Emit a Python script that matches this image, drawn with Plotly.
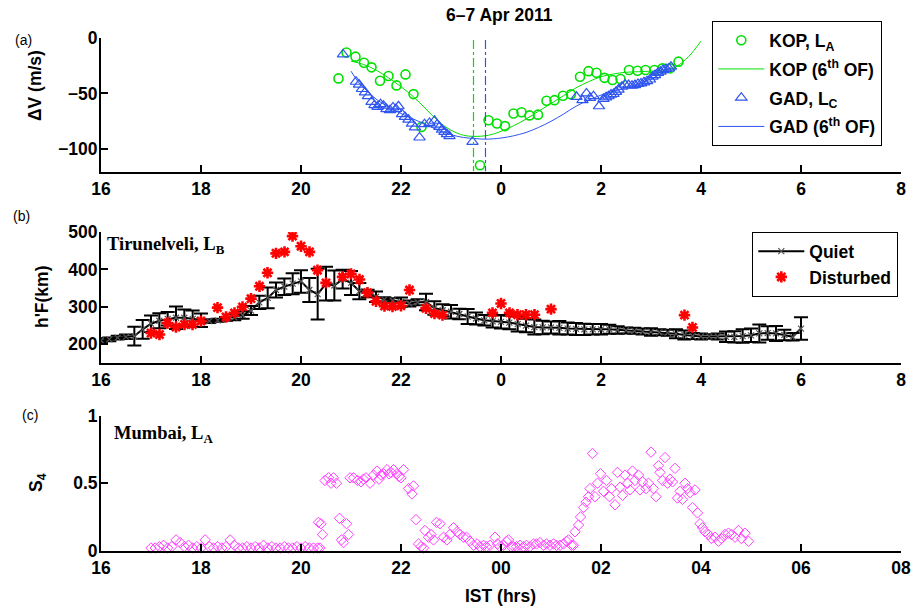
import numpy as np
import plotly.graph_objects as go

# ---------------- panel (a): drift difference, KOP and GAD ----------------
kop_hr = [20.75, 20.91, 21.09, 21.26, 21.41, 21.58, 21.75, 21.91, 22.09, 22.25, 22.41,
          23.58, 23.75, 23.92, 24.08, 24.25, 24.41, 24.57, 24.74, 24.91, 25.07, 25.24,
          25.40, 25.58, 25.75, 25.91, 26.07, 26.23, 26.39, 26.56, 26.73, 26.89, 27.07,
          27.23, 27.38, 27.55]
kop_dv = [-36.5, -13.3, -17, -22.5, -26.6, -38.6, -34.4, -42.8, -32.9, -50.6, -80,
          -114.4, -74, -77, -79.3, -68, -66.8, -69.7, -69, -56.6, -56, -52,
          -50.8, -35, -30, -31.4, -36, -38, -37, -29, -29.6, -29, -29,
          -27.5, -27.5, -21.5]

kop_fit_hr = [21.0, 21.25, 21.5, 21.75, 22.0, 22.25, 22.5, 22.75, 23.0, 23.25, 23.45,
              23.75, 24.0, 24.25, 24.5, 24.75, 25.0, 25.25, 25.5, 25.75, 26.0, 26.25,
              26.5, 26.75, 27.0, 27.25, 27.5, 27.75, 28.0]
kop_fit_dv = [-21, -24, -29, -36, -44, -53, -64, -75, -83, -87.5, -88.5,
              -87.5, -84, -79, -73, -66, -59, -52, -45, -39.5, -35, -32.5,
              -31, -30.5, -30, -29, -26, -17, -3]

gad_hr = [20.84, 21.10, 21.16, 21.22, 21.28, 21.34, 21.41, 21.47, 21.53, 21.59, 21.65,
          21.71, 21.78, 21.84, 21.90, 21.95, 22.02, 22.08, 22.15, 22.22, 22.28, 22.37,
          22.47, 22.57, 22.67, 22.72, 22.77, 22.82, 22.87, 22.92, 22.97, 23.43,
          25.51, 25.63, 25.71, 25.78, 25.85, 25.96, 26.05, 26.10, 26.15, 26.20, 26.25,
          26.30, 26.35, 26.42, 26.48, 26.55, 26.62, 26.68, 26.74, 26.80, 26.86, 26.92,
          26.98, 27.03, 27.08, 27.14, 27.19, 27.24, 27.30, 27.36, 27.40]
gad_dv = [-15, -39.5, -42, -46, -49, -52.4, -57.5, -60.5, -62, -59.6, -61,
          -64, -65, -62.5, -64, -61.5, -68.6, -71, -73.5, -77, -80.5, -89.5,
          -77.6, -76.4, -74.5, -78, -80, -82.5, -84.5, -86.5, -88.3, -93.5,
          -53, -56, -50, -54, -52.4, -61.5, -55, -53.5, -52.5, -51, -50.5,
          -48.5, -46.5, -44, -42, -42.5, -43, -42.5, -41.5, -41, -40, -39,
          -37.5, -35, -33.5, -31.5, -30.5, -29, -28, -27.5, -26]

gad_fit_hr = [21.0, 21.15, 21.33, 21.5, 21.75, 22.0, 22.25, 22.5, 22.75, 23.0, 23.25,
              23.5, 23.7, 24.0, 24.25, 24.5, 24.75, 25.0, 25.25, 25.5, 25.75, 26.0,
              26.25, 26.5, 26.75, 27.0, 27.25, 27.4]
gad_fit_dv = [-30, -40, -48, -55, -62, -68, -73, -78, -83, -87, -89.5,
              -90.5, -91, -90, -88, -85, -80.5, -75, -68.5, -61.5, -56, -51.5,
              -48, -45, -41.5, -37, -31, -26]

# hours of the fitted minima, and the vertical extent of their markers
kop_fit_min_hr = 23.45
gad_fit_min_hr = 23.69
min_marker_dv = [-2, -120]

# ---------------- panel (b): h'F at Tirunelveli ----------------
quiet_hr = np.round(np.arange(16.0, 30.0 + 1e-6, 1.0 / 6.0), 4)
quiet_hf = [210, 213, 218, 220, 222, 240,
            255, 263, 268, 271, 271, 268,
            264, 262, 264, 268, 272, 278,
            290, 312, 324, 345, 354, 362,
            368, 345, 334, 362, 357, 374,
            364, 342, 336, 327, 320, 317,
            313, 309, 312, 313, 297, 291,
            287, 281, 274, 269, 264, 261,
            260, 258, 254, 250, 246, 245,
            245, 244, 242, 241, 240, 240,
            240, 240, 238, 237, 236, 234,
            233, 232, 231, 228, 225, 222,
            221, 221, 221, 220, 220, 222,
            224, 229, 230, 229, 225, 220,
            242]
quiet_err = [6, 5, 5, 6, 25, 25,
             22, 20, 18, 30, 22, 22,
             18, 5, 4, 5, 8, 10,
             12, 18, 28, 20, 22, 28,
             30, 32, 68, 45, 40, 25,
             32, 22, 10, 14, 6, 6,
             12, 8, 8, 22, 18, 16,
             18, 14, 20, 16, 14, 16,
             18, 18, 20, 18, 20, 18,
             16, 18, 16, 16, 15, 14,
             14, 12, 10, 8, 8, 8,
             10, 8, 8, 12, 12, 8,
             8, 6, 8, 14, 15, 18,
             18, 24, 18, 20, 14, 10,
             30]

dist_hr = [17.00, 17.17, 17.33, 17.50, 17.67, 17.83, 18.00, 18.33, 18.50, 18.67, 18.83,
           19.00, 19.17, 19.33, 19.50, 19.67, 19.83, 20.00, 20.17, 20.33, 20.50, 20.83,
           21.00, 21.17, 21.33, 21.50, 21.67, 21.83, 22.00, 22.17, 22.50, 22.67, 22.83,
           23.83, 24.00, 24.17, 24.33, 24.50, 24.67, 25.00, 27.67, 27.83]
dist_hf = [230, 226, 257, 246, 253, 253, 262, 298, 273, 284, 300,
           322, 355, 391, 443, 447, 489, 462, 447, 398, 364, 380,
           388, 373, 338, 315, 302, 301, 303, 345, 296, 282, 278,
           284, 309, 284, 279, 279, 279, 294, 278, 245]

# ---------------- panel (c): S4 at Mumbai ----------------
s4_quiet_hr = np.round(17.0 + np.arange(41) / 12.0, 4)
s4_quiet = [0.02, 0.02, 0.03, 0.04, 0.02, 0.03, 0.08, 0.06, 0.03, 0.04, 0.02, 0.03,
            0.02, 0.08, 0.03, 0.02, 0.03, 0.02, 0.03, 0.08, 0.04, 0.02, 0.02, 0.03,
            0.02, 0.03, 0.02, 0.04, 0.02, 0.03, 0.02, 0.02, 0.03, 0.02, 0.02, 0.03,
            0.02, 0.03, 0.02, 0.02, 0.02]
s4_event_hr = [20.35, 20.38, 20.40, 20.43, 20.48, 20.55, 20.60, 20.65, 20.71, 20.77, 20.81,
               20.85, 20.91, 20.95, 20.98, 21.05, 21.13, 21.20, 21.25, 21.30, 21.38, 21.45,
               21.52, 21.56, 21.60, 21.65, 21.72, 21.76, 21.80, 21.85, 21.92, 21.96, 22.00,
               22.05, 22.15, 22.22, 22.25, 22.30, 22.35, 22.40, 22.45, 22.48, 22.55, 22.60,
               22.65, 22.71, 22.78, 22.85, 22.92, 22.98, 23.05, 23.12, 23.18, 23.25, 23.31,
               23.38, 23.45, 23.52, 23.58, 23.65, 23.71, 23.78, 23.88, 23.93, 23.98, 24.05,
               24.11, 24.15, 24.20, 24.25, 24.31, 24.38, 24.45, 24.51, 24.58, 24.65, 24.71,
               24.78, 24.85, 24.91, 24.98, 25.05, 25.11, 25.18, 25.25, 25.31, 25.35, 25.41,
               25.45, 25.48, 25.55, 25.59, 25.65, 25.70, 25.75, 25.78, 25.83, 25.88, 25.93,
               25.99, 26.05, 26.11, 26.17, 26.21, 26.28, 26.33, 26.38, 26.43, 26.48, 26.53,
               26.58, 26.63, 26.68, 26.75, 26.78, 26.83, 26.90, 26.95, 27.00, 27.05, 27.10,
               27.15, 27.18, 27.23, 27.28, 27.33, 27.38, 27.43, 27.48, 27.53, 27.58, 27.63,
               27.68, 27.73, 27.78, 27.83, 27.88, 27.93, 27.98, 28.03, 28.08, 28.15, 28.21,
               28.28, 28.35, 28.41, 28.48, 28.55, 28.61, 28.68, 28.75, 28.81, 28.88, 28.95]
s4_event = [0.21, 0.02, 0.20, 0.12, 0.52, 0.54, 0.50, 0.54, 0.50, 0.24, 0.08,
            0.06, 0.20, 0.12, 0.54, 0.54, 0.52, 0.51, 0.53, 0.54, 0.50, 0.56,
            0.59, 0.53, 0.56, 0.57, 0.60, 0.57, 0.58, 0.60, 0.57, 0.55, 0.54,
            0.60, 0.46, 0.42, 0.48, 0.23, 0.05, 0.03, 0.02, 0.15, 0.10, 0.12,
            0.08, 0.21, 0.20, 0.10, 0.08, 0.12, 0.17, 0.14, 0.12, 0.10, 0.10,
            0.07, 0.04, 0.05, 0.03, 0.04, 0.03, 0.04, 0.10, 0.05, 0.03, 0.04,
            0.07, 0.08, 0.03, 0.03, 0.03, 0.04, 0.03, 0.04, 0.03, 0.05, 0.05,
            0.06, 0.04, 0.05, 0.04, 0.05, 0.04, 0.04, 0.05, 0.07, 0.08, 0.04,
            0.04, 0.14, 0.19, 0.25, 0.32, 0.36, 0.40, 0.46, 0.72, 0.40, 0.50,
            0.57, 0.44, 0.52, 0.40, 0.46, 0.34, 0.58, 0.47, 0.41, 0.56, 0.50,
            0.45, 0.59, 0.52, 0.56, 0.45, 0.51, 0.46, 0.50, 0.73, 0.46, 0.40,
            0.63, 0.58, 0.52, 0.69, 0.50, 0.53, 0.51, 0.61, 0.39, 0.44, 0.38,
            0.50, 0.46, 0.43, 0.32, 0.45, 0.28, 0.20, 0.17, 0.14, 0.12, 0.09,
            0.10, 0.07, 0.09, 0.12, 0.13, 0.12, 0.10, 0.15, 0.09, 0.13, 0.07]
s4_hr = list(s4_quiet_hr) + s4_event_hr
s4 = s4_quiet + s4_event

# ---------------- axis ticks ----------------
hour_ticks = [16, 18, 20, 22, 24, 26, 28, 30, 32]
hour_labels_ab = ["16", "18", "20", "22", "0", "2", "4", "6", "8"]
hour_labels_c = ["16", "18", "20", "22", "00", "02", "04", "06", "08"]

# ---------------- styling ----------------
W, H = 919, 606
SANS = "Liberation Sans"
SERIF = "Liberation Serif"
FS = 17.5
GREEN = "#00e000"
BLUE = "#2f55f0"
RED = "#ff0000"
MAGENTA = "#ff40ff"


def px_x(x):
    return x / W


def px_y(y):
    return 1 - y / H


XDOM = [px_x(101), px_x(901)]
tickfont = dict(family=SANS, size=FS, color="black", weight="bold")

fig = go.Figure()

# panel (a)
fig.add_trace(go.Scatter(x=kop_hr, y=kop_dv, mode="markers", name="<b>KOP, L<sub>A</sub></b>",
                         legendgroup="kop",
                         marker=dict(symbol="circle-open", size=9, color=GREEN, line=dict(width=1.6, color=GREEN)),
                         xaxis="x", yaxis="y", legend="legend"))
fig.add_trace(go.Scatter(x=kop_fit_hr, y=kop_fit_dv, mode="lines", name="<b>KOP (6<sup>th</sup> OF)</b>",
                         legendgroup="kopfit",
                         line=dict(color=GREEN, width=1, shape="spline", smoothing=1.0),
                         xaxis="x", yaxis="y", legend="legend"))
fig.add_trace(go.Scatter(x=gad_hr, y=gad_dv, mode="markers", name="<b>GAD, L<sub>C</sub></b>",
                         legendgroup="gad",
                         marker=dict(symbol="triangle-up-open", size=10, color=BLUE, line=dict(width=1.2, color=BLUE)),
                         xaxis="x", yaxis="y", legend="legend"))
fig.add_trace(go.Scatter(x=gad_fit_hr, y=gad_fit_dv, mode="lines", name="<b>GAD (6<sup>th</sup> OF)</b>",
                         legendgroup="gadfit",
                         line=dict(color=BLUE, width=1, shape="spline", smoothing=1.0),
                         xaxis="x", yaxis="y", legend="legend"))
# dash-dot markers at the hours of the fitted minima
fig.add_trace(go.Scatter(x=[kop_fit_min_hr, kop_fit_min_hr], y=min_marker_dv, mode="lines",
                         showlegend=False, line=dict(color=GREEN, width=1.2, dash="dashdot"),
                         xaxis="x", yaxis="y"))
fig.add_trace(go.Scatter(x=[gad_fit_min_hr, gad_fit_min_hr], y=min_marker_dv, mode="lines",
                         showlegend=False, line=dict(color=BLUE, width=1.2, dash="dashdot"),
                         xaxis="x", yaxis="y"))

# panel (b)
fig.add_trace(go.Scatter(x=quiet_hr, y=quiet_hf, mode="lines+markers", name="<b>Quiet</b>",
                         line=dict(color="black", width=2),
                         marker=dict(symbol="x-thin-open", size=6, color="#555555",
                                     line=dict(width=1.2, color="#555555")),
                         error_y=dict(type="data", array=quiet_err, visible=True, color="black",
                                      thickness=2, width=7),
                         xaxis="x2", yaxis="y2", legend="legend2"))
fig.add_trace(go.Scatter(x=dist_hr, y=dist_hf, mode="markers", name="<b>Disturbed</b>",
                         marker=dict(symbol="asterisk-open", size=9.5, color=RED, line=dict(width=2.6, color=RED)),
                         xaxis="x2", yaxis="y2", legend="legend2"))

# panel (c)
fig.add_trace(go.Scatter(x=s4_hr, y=s4, mode="markers", showlegend=False, cliponaxis=False,
                         marker=dict(symbol="diamond-open", size=8, color=MAGENTA, line=dict(width=1, color=MAGENTA)),
                         xaxis="x3", yaxis="y3"))


def xaxis(anchor, labels):
    return dict(domain=XDOM, range=[16, 32], tickmode="array", tickvals=hour_ticks, ticktext=labels,
                showline=True, linecolor="black", linewidth=2, ticks="inside", ticklen=7,
                tickwidth=2, tickcolor="black", showgrid=False, zeroline=False, automargin=False,
                tickfont=tickfont, anchor=anchor, fixedrange=True)


def yaxis(anchor, dom, rng, vals, labels):
    return dict(domain=dom, range=rng, tickmode="array", tickvals=vals, ticktext=labels,
                showline=True, linecolor="black", linewidth=2, ticks="inside", ticklen=7,
                tickwidth=2, tickcolor="black", showgrid=False, zeroline=False, automargin=False,
                ticklabelstandoff=-2,
                tickfont=tickfont, anchor=anchor, fixedrange=True)


legend_style = dict(xanchor="left", yanchor="top", bgcolor="white", bordercolor="black",
                    borderwidth=1.3, font=dict(family=SANS, size=FS, color="black"),
                    itemwidth=46, itemclick=False, itemdoubleclick=False)

fig.update_layout(
    width=W, height=H, autosize=False,
    margin=dict(l=0, r=0, t=0, b=0, pad=0, autoexpand=False),
    paper_bgcolor="white", plot_bgcolor="white",
    showlegend=True,
    xaxis=xaxis("y", hour_labels_ab),
    yaxis=yaxis("x", [px_y(171.5), px_y(37.7)], [-120, 0], [-100, -50, 0], ["\u2212100", "\u221250", "0"]),
    xaxis2=xaxis("y2", hour_labels_ab),
    yaxis2=yaxis("x2", [px_y(363), px_y(232)], [150, 500], [200, 300, 400, 500], ["200", "300", "400", "500"]),
    xaxis3=xaxis("y3", hour_labels_c),
    yaxis3=yaxis("x3", [px_y(550.7), px_y(415.7)], [0, 1], [0, 0.5, 1], ["0", "0.5", "1"]),
    legend=dict(x=px_x(712), y=px_y(21), traceorder="grouped", tracegroupgap=3, **legend_style),
    legend2=dict(x=px_x(752), y=px_y(232), tracegroupgap=0, **legend_style),
)


def note(text, x, y, size=FS, family=SANS, angle=0, xanchor="center", yanchor="middle"):
    fig.add_annotation(text=text, x=px_x(x), y=px_y(y), xref="paper", yref="paper",
                       showarrow=False, textangle=angle, xanchor=xanchor, yanchor=yanchor,
                       font=dict(family=family, size=size, color="black"))


note("<b>6\u20137 Apr 2011</b>", 499, 15)
note("<b>\u0394V (m/s)</b>", 35, 86, angle=-90)
note("<b>h'F(km)</b>", 42, 297, angle=-90)
note("<b>S<sub>4</sub></b>", 37, 483, angle=-90)
note("<b>IST (hrs)</b>", 501, 596)
note("(a)", 23, 40, size=14)
note("(b)", 21, 216, size=14)
note("(c)", 30, 415, size=14)
note("<b>Tirunelveli, L<sub>B</sub></b>", 105, 245, size=18.5, family=SERIF, xanchor="left")
note("<b>Mumbai, L<sub>A</sub></b>", 112, 434, size=18.5, family=SERIF, xanchor="left")

# keep the page flush with the window so the figure sits at its own 919x606 size
page_fix = (
    "document.documentElement.style.margin='0';"
    "document.body.style.margin='0';"
    "document.body.style.overflow='hidden';"
    "var gd=document.getElementById('{plot_id}');"
    "Plotly.relayout(gd,{width:919,height:606});"
)
fig.write_html("out.html", post_script=page_fix, config={"responsive": False})
